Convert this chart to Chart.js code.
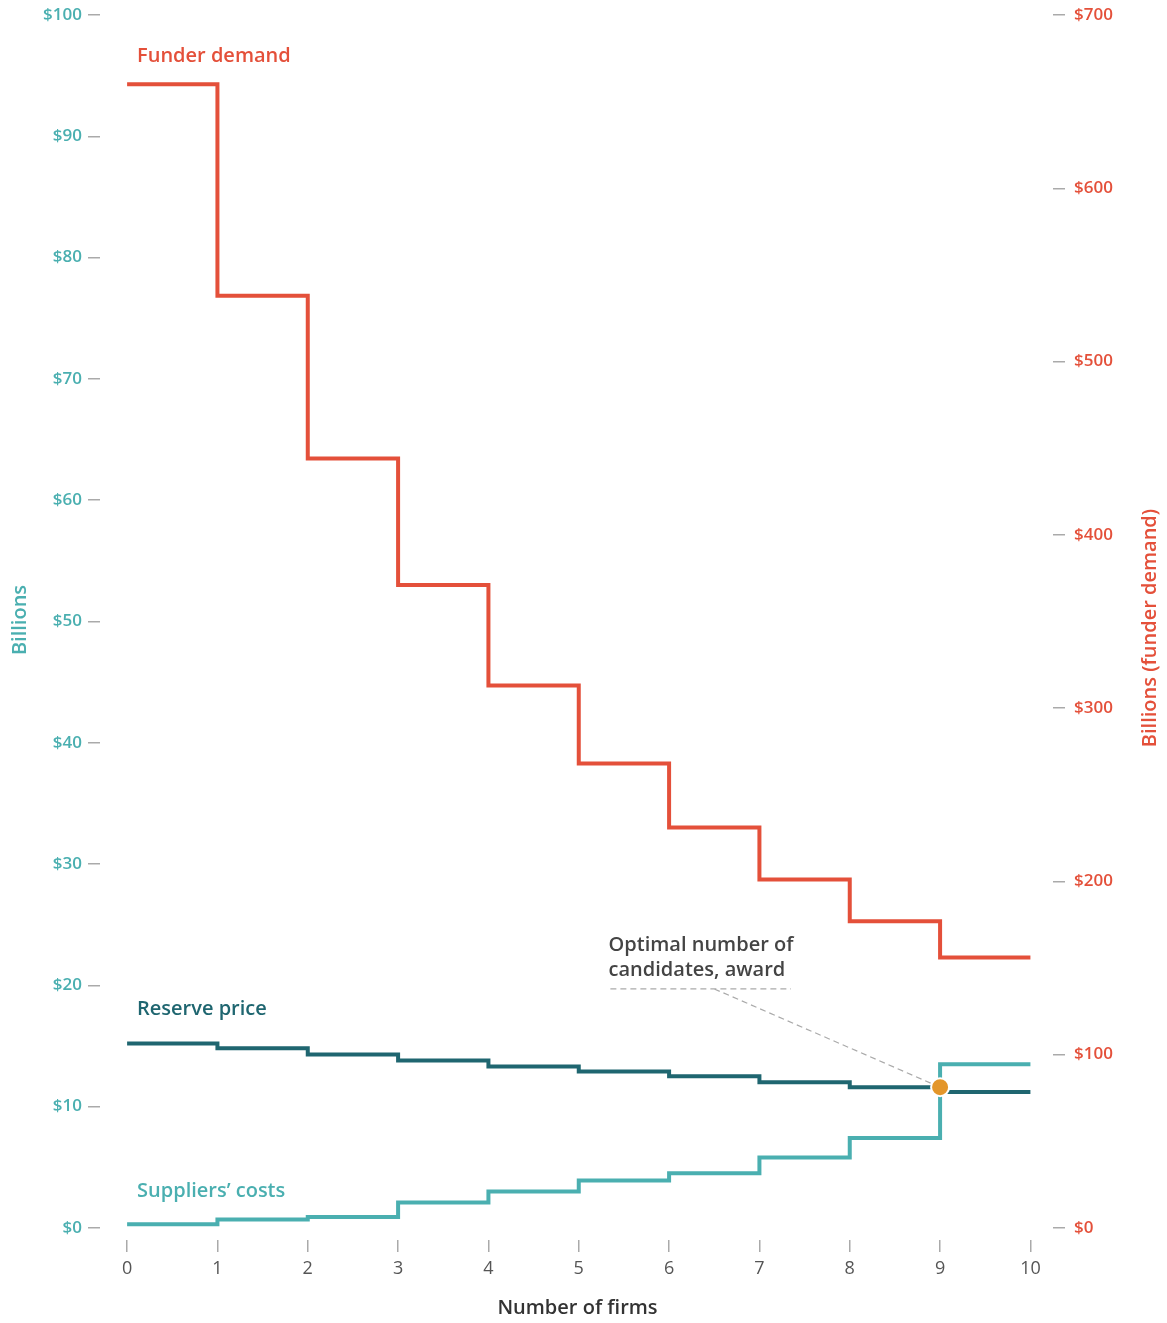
<!DOCTYPE html>
<html>
<head>
<meta charset="utf-8">
<script src="https://cdn.jsdelivr.net/npm/chart.js@4/dist/chart.umd.min.js"></script>
<style>
  body { margin: 0; background: #fff; }
  #wrap { width: 1167px; height: 1323px; }
</style>
</head>
<body>
<div id="wrap"><canvas id="chart"></canvas></div>
<script>
'use strict';

const firms = [0, 1, 2, 3, 4, 5, 6, 7, 8, 9, 10];
// value held between firm i and i+1
const funderDemand = [660, 538, 444, 371, 313, 268, 231, 201, 177, 156];
const reservePrice = [15.2, 14.8, 14.3, 13.8, 13.3, 12.9, 12.5, 12.0, 11.6, 11.2];
const suppliersCosts = [0.3, 0.7, 0.9, 2.1, 3.0, 3.9, 4.5, 5.8, 7.4, 13.5];
const leftTicks = [0, 10, 20, 30, 40, 50, 60, 70, 80, 90, 100];
const rightTicks = [0, 100, 200, 300, 400, 500, 600, 700];
const optimal = [{ x: 9, y: 11.6 }];

const red = "#e4503a";
const teal = "#4aafb0";
const darkTeal = "#1f6670";
const orange = "#e3962a";
const grey = "#aaaaaa";
const font = "'Open Sans', sans-serif";

function steps(values) {
    return firms.map((f, i) => ({ x: f, y: values[Math.min(i, values.length - 1)] }));
}

function lineSet(label, values, color, axis) {
    return {
        label: label,
        data: steps(values),
        yAxisID: axis,
        stepped: 'before',
        borderColor: color,
        borderWidth: 4,
        borderJoinStyle: 'miter',
        pointRadius: 0,
        fill: false
    };
}

// text labels and the leader line, placed in data units
const labels = [
    { text: "Funder demand", x: 0.11, y: 96.6, color: red },
    { text: "Reserve price", x: 0.11, y: 18.0, color: darkTeal },
    { text: "Suppliers\u2019 costs", x: 0.11, y: 3.0, color: teal },
    { text: "Optimal number of", x: 5.33, y: 23.3, color: "#444" },
    { text: "candidates, award", x: 5.33, y: 21.2, color: "#444" }
];
const leader = { x0: 5.35, x1: 7.35, xBend: 6.5, y: 19.7 };

const decorations = {
    id: 'decorations',
    beforeDatasetsDraw(chart) {
        const c = chart.ctx, xs = chart.scales.x, ys = chart.scales.y;
        c.save();
        c.strokeStyle = grey;
        c.lineWidth = 1.2;
        c.setLineDash([6, 4]);
        const ly = ys.getPixelForValue(leader.y);
        c.beginPath();
        c.moveTo(xs.getPixelForValue(leader.x0), ly);
        c.lineTo(xs.getPixelForValue(leader.x1), ly);
        c.moveTo(xs.getPixelForValue(leader.xBend), ly);
        c.lineTo(xs.getPixelForValue(optimal[0].x), ys.getPixelForValue(optimal[0].y));
        c.stroke();
        c.restore();
    },
    afterDraw(chart) {
        const c = chart.ctx, xs = chart.scales.x, ys = chart.scales.y;
        c.save();
        c.font = "600 20px " + font;
        c.textBaseline = 'middle';
        c.textAlign = 'left';
        labels.forEach(l => {
            c.fillStyle = l.color;
            c.fillText(l.text, xs.getPixelForValue(l.x), ys.getPixelForValue(l.y));
        });

        // axis titles
        c.textAlign = 'center';
        c.fillStyle = teal;
        c.save();
        c.translate(20, 620);
        c.rotate(-Math.PI / 2);
        c.fillText("Billions", 0, 0);
        c.restore();

        c.fillStyle = red;
        c.save();
        c.translate(1150, 628);
        c.rotate(-Math.PI / 2);
        c.fillText("Billions (funder demand)", 0, 0);
        c.restore();

        c.fillStyle = "#333";
        c.fillText("Number of firms", (chart.chartArea.left + chart.chartArea.right) / 2 + 1, 1308);
        c.restore();
    }
};

function fixY(width) {
    return s => {
        s.width = width;
        s.paddingTop = 8;
        s.paddingBottom = 8;
    };
}

const ctx = document.getElementById('chart').getContext('2d');
new Chart(ctx, {
    type: 'line',
    data: {
        datasets: [
            {
                label: 'Optimal',
                data: optimal,
                yAxisID: 'y',
                showLine: false,
                pointRadius: 9,
                pointBackgroundColor: orange,
                pointBorderColor: "#fff",
                pointBorderWidth: 2,
                order: 0
            },
            Object.assign(lineSet('Funder demand', funderDemand, red, 'y2'), { order: 1 }),
            Object.assign(lineSet('Suppliers\u2019 costs', suppliersCosts, teal, 'y'), { order: 2 }),
            Object.assign(lineSet('Reserve price', reservePrice, darkTeal, 'y'), { order: 3 })
        ]
    },
    options: {
        responsive: true,
        maintainAspectRatio: false,
        animation: false,
        layout: { padding: { top: 15, left: 0, right: 0, bottom: 0 } },
        plugins: {
            legend: { display: false },
            tooltip: { enabled: false }
        },
        scales: {
            x: {
                type: 'linear',
                min: -0.3,
                max: 10.25,
                afterBuildTicks: s => { s.ticks = firms.map(v => ({ value: v })); },
                afterFit: s => { s.height = 83; },
                grid: { drawOnChartArea: false, tickLength: 12, color: grey, lineWidth: 1.5 },
                border: { display: false },
                ticks: { color: "#555", font: { family: font, size: 18 }, padding: 6 }
            },
            y: {
                position: 'left',
                min: -1,
                max: 100,
                afterBuildTicks: s => { s.ticks = leftTicks.map(v => ({ value: v })); },
                afterFit: fixY(100),
                grid: { drawOnChartArea: false, tickLength: 12, color: grey, lineWidth: 1.5 },
                border: { display: false },
                ticks: {
                    color: teal,
                    font: { family: font, size: 17, weight: 600 },
                    padding: 6,
                    callback: v => '$' + v
                }
            },
            y2: {
                position: 'right',
                min: -7,
                max: 700,
                afterBuildTicks: s => { s.ticks = rightTicks.map(v => ({ value: v })); },
                afterFit: fixY(114),
                grid: { drawOnChartArea: false, tickLength: 12, color: grey, lineWidth: 1.5 },
                border: { display: false },
                ticks: {
                    color: red,
                    font: { family: font, size: 17, weight: 600 },
                    padding: 9,
                    callback: v => '$' + v
                }
            }
        }
    },
    plugins: [decorations]
});
</script>
</body>
</html>
